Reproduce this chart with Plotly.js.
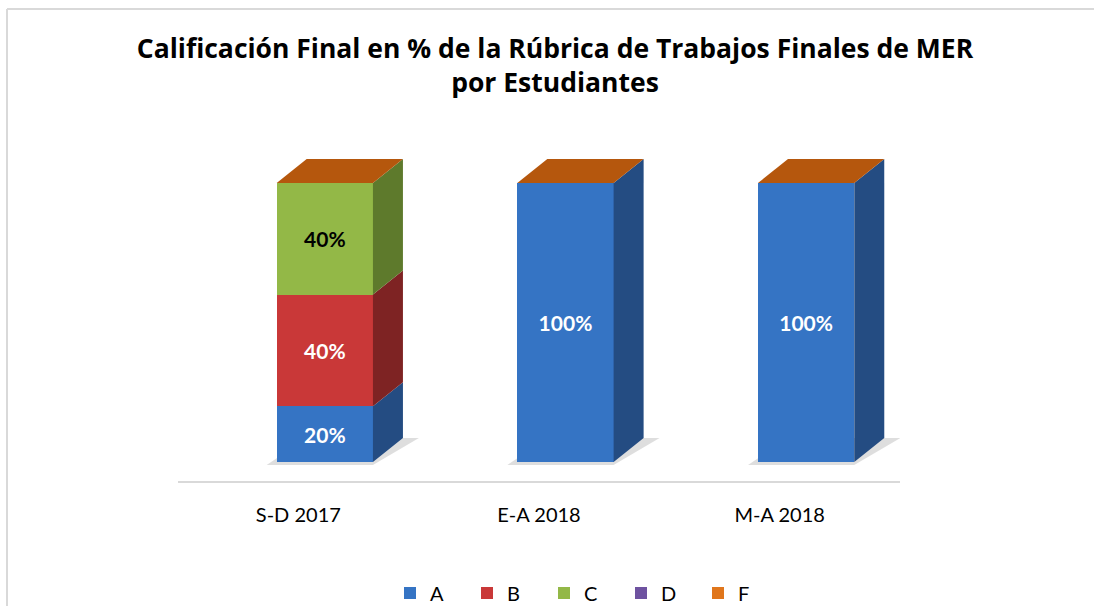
<!DOCTYPE html>
<html>
<head>
<meta charset="utf-8">
<script src="https://cdn.plot.ly/plotly-3.0.1.min.js"></script>
<style>html,body{margin:0;padding:0;background:#fff;}#chart{width:1094px;height:606px;}</style>
</head>
<body>
<div id="chart"></div>
<script>
// ---- data ----
const categories = ['S-D 2017', 'E-A 2018', 'M-A 2018'];
const seriesNames = ['A', 'B', 'C', 'D', 'F'];
const valuesA = [20, 100, 100];
const valuesB = [40, 0, 0];
const valuesC = [40, 0, 0];
const valuesD = [0, 0, 0];
const valuesF = [0, 0, 0];
const chartTitle = 'Calificación Final en % de la Rúbrica de Trabajos Finales de MER<br>por Estudiantes';

// ---- styles ----
const W = 1094, H = 606;
const M = {l: 178, r: 194, t: 140, b: 125, autoexpand: false};
const plotW = W - M.l - M.r, plotH = H - M.t - M.b;
const xRange = [-0.5, 2.5];
const pxPerX = plotW / (xRange[1] - xRange[0]);
const pxPerY = 2.79;             // px per percent
const floorGap = 19;             // px between bar base and floor line
const yMin = -floorGap / pxPerY;
const yMax = yMin + plotH / pxPerY;
const barOffset = 0.11, barWidth = 0.4;
const depthX = 30 / pxPerX, depthY = 24 / pxPerY;

const frontColors = {A: '#3574C4', B: '#C93838', C: '#93B847', D: '#6E52A0', F: '#E0761C'};
const sideColors  = {A: '#244C82', B: '#7E2323', C: '#5E7A2C', D: '#47346A', F: '#9C4E10'};
const topColor = '#B5570D';
const textColors = {A: '#FFFFFF', B: '#FFFFFF', C: '#000000', D: '#FFFFFF', F: '#FFFFFF'};
const fontFam = 'Lato, "Open Sans", sans-serif';
const titleFam = '"Open Sans", sans-serif';

const seriesValues = {A: valuesA, B: valuesB, C: valuesC, D: valuesD, F: valuesF};
const xPos = categories.map((_, i) => i + barOffset);

const traces = seriesNames.map(name => ({
  type: 'bar',
  name: name,
  x: xPos,
  y: seriesValues[name],
  width: barWidth,
  text: seriesValues[name].map(v => v > 0 ? v + '%' : ''),
  textposition: 'inside',
  insidetextanchor: 'middle',
  textangle: 0,
  constraintext: 'none',
  textfont: {family: fontFam, size: 21, weight: 'bold', color: textColors[name]},
  marker: {color: frontColors[name], line: {width: 0}},
  hoverinfo: 'skip'
}));

// ---- 3D faces built from the data ----
const shapes = [];
const pxToPaperX = px => (px - M.l) / plotW;
const pxToPaperY = py => (H - M.b - py) / plotH;
// chart frame
shapes.push({type: 'line', xref: 'paper', yref: 'paper', x0: pxToPaperX(7), x1: pxToPaperX(7), y0: pxToPaperY(9), y1: pxToPaperY(620), line: {color: '#D9D9D9', width: 2}, layer: 'below'});
shapes.push({type: 'line', xref: 'paper', yref: 'paper', x0: pxToPaperX(7), x1: pxToPaperX(1100), y0: pxToPaperY(9), y1: pxToPaperY(9), line: {color: '#D9D9D9', width: 2}, layer: 'below'});

categories.forEach((_, i) => {
  const xl = xPos[i] - barWidth / 2, xr = xPos[i] + barWidth / 2;
  // floor shadow
  const sx = 10 / pxPerX, sy = 3 / pxPerY;
  shapes.push({type: 'path', xref: 'x', yref: 'y', layer: 'below',
    path: `M${xl - sx},${-sy} L${xr},${-sy} L${xr + depthX + 1.6 * sx},${depthY} L${xl + depthX},${depthY} Z`,
    fillcolor: 'rgba(0,0,0,0.13)', line: {width: 0}});
  let base = 0;
  seriesNames.forEach(name => {
    const v = seriesValues[name][i];
    if (v > 0) {
      const top = base + v;
      shapes.push({type: 'path', xref: 'x', yref: 'y', layer: 'above',
        path: `M${xr},${base} L${xr + depthX},${base + depthY} L${xr + depthX},${top + depthY} L${xr},${top} Z`,
        fillcolor: sideColors[name], line: {width: 0}});
      base = top;
    }
  });
  shapes.push({type: 'path', xref: 'x', yref: 'y', layer: 'above',
    path: `M${xl},${base} L${xl + depthX},${base + depthY} L${xr + depthX},${base + depthY} L${xr},${base} Z`,
    fillcolor: topColor, line: {width: 0}});
});

const layout = {
  width: W, height: H,
  margin: M,
  paper_bgcolor: '#FFFFFF',
  plot_bgcolor: 'rgba(0,0,0,0)',
  barmode: 'stack',
  bargap: 0,
  title: {
    text: chartTitle,
    font: {family: titleFam, size: 26.5, weight: 'bold', color: '#000000'},
    x: 555 / W, xanchor: 'center', xref: 'container',
    y: 1 - 58 / H, yanchor: 'top', yref: 'container'
  },
  xaxis: {
    range: xRange, tickvals: categories.map((_, i) => i), ticktext: categories,
    showline: true, linecolor: '#D9D9D9', linewidth: 2, showgrid: false, zeroline: false,
    ticks: 'outside', ticklen: 15, tickcolor: 'rgba(0,0,0,0)',
    tickfont: {family: fontFam, size: 20, color: '#000000'}, fixedrange: true
  },
  yaxis: {range: [yMin, yMax], visible: false, fixedrange: true},
  showlegend: true,
  legend: {
    orientation: 'h', x: pxToPaperX(390), xanchor: 'left', y: pxToPaperY(593), yanchor: 'middle',
    font: {family: fontFam, size: 20, color: '#000000'},
    entrywidth: 32, entrywidthmode: 'pixels', itemwidth: 30, traceorder: 'normal'
  },
  shapes: shapes
};

Plotly.newPlot('chart', traces, layout, {displayModeBar: false, staticPlot: true});
</script>
</body>
</html>
